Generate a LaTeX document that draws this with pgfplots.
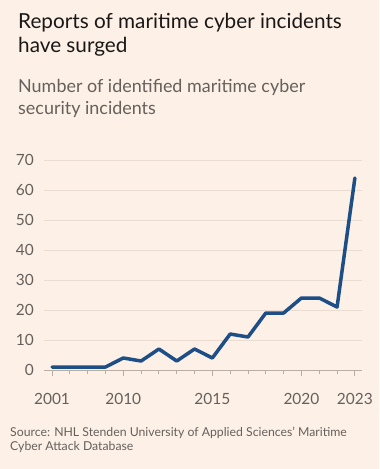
\documentclass[border=0pt]{standalone}
\usepackage{fontspec}
\setmainfont{Lato}
\usepackage{pgfplots}
\pgfplotsset{compat=1.18}
\definecolor{bg}{HTML}{FDF0E6}
\definecolor{ftblue}{HTML}{1D4E85}
\definecolor{txtgray}{HTML}{66605C}
\definecolor{titlec}{HTML}{1A1817}
\definecolor{gridc}{HTML}{EADCD0}
\definecolor{axisc}{HTML}{B8AEA6}
\begin{document}
\begin{tikzpicture}[x=1bp,y=1bp]
\fill[bg] (0,0) rectangle (379,-469);
\node[anchor=base west, inner sep=0, text=titlec] at (18,-29) {\fontsize{20.8}{24}\selectfont Reports of maritime cyber incidents};
\node[anchor=base west, inner sep=0, text=titlec] at (18,-53) {\fontsize{20.8}{24}\selectfont have surged};
\node[anchor=base west, inner sep=0, text=txtgray] at (18,-93) {\fontsize{18}{20}\selectfont Number of identified maritime cyber};
\node[anchor=base west, inner sep=0, text=txtgray] at (18,-115) {\fontsize{18}{20}\selectfont security incidents};
\node[anchor=base west, inner sep=0, text=txtgray] at (10,-436) {\fontsize{12.3}{13}\selectfont Source: NHL Stenden University of Applied Sciences' Maritime};
\node[anchor=base west, inner sep=0, text=txtgray] at (10,-450) {\fontsize{12.3}{13}\selectfont Cyber Attack Database};
\begin{axis}[
  at={(44bp,-370bp)}, anchor=south west,
  scale only axis, width=318bp, height=210bp,
  xmin=-0.45, xmax=17.4, ymin=0, ymax=70,
  clip=false,
  axis x line*=bottom, axis y line*=left,
  y axis line style={draw=none},
  x axis line style={draw=axisc, line width=1bp},
  ytick={0,10,...,70},
  ymajorgrids, grid style={draw=gridc, line width=0.9bp},
  ytick style={draw=none},
  xtick={0,4,9,14,17},
  xticklabels={2001,2010,2015,2020,2023},
  minor xtick={1,2,3,5,6,7,8,10,11,12,13,15,16},
  tick align=outside,
  major tick length=6bp, minor tick length=3.5bp,
  xtick style={draw=axisc, line width=0.9bp},
  minor x tick style={draw=axisc, line width=0.9bp},
  tick label style={text=txtgray, font=\fontsize{15.5}{16}\selectfont, inner sep=0},
  /pgf/number format/assume math mode=true,
  yticklabel style={anchor=east, xshift=-4bp},
  xticklabel style={anchor=base, yshift=-28bp},
]
\addplot[ftblue, line width=3.5bp, line join=round, line cap=round] coordinates {
(0,1) (1,1) (2,1) (3,1) (4,4) (5,3) (6,7) (7,3) (8,7) (9,4) (10,12) (11,11) (12,19) (13,19) (14,24) (15,24) (16,21) (17,64)
};
\end{axis}
\end{tikzpicture}
\end{document}
